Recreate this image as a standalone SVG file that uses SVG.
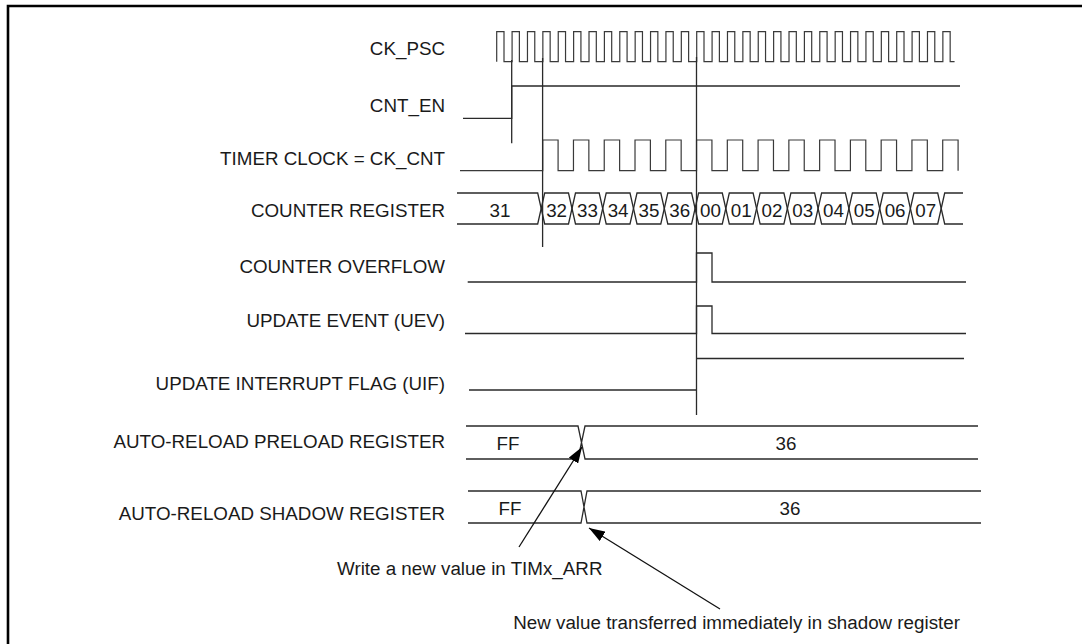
<svg xmlns="http://www.w3.org/2000/svg" width="1082" height="644" viewBox="0 0 1082 644">
<style>
.lbl{font-family:"Liberation Sans",Arial,sans-serif;font-size:18.8px;fill:#1a1a1a;text-anchor:end}
.val{font-family:"Liberation Sans",Arial,sans-serif;font-size:18.8px;fill:#1a1a1a;text-anchor:middle}
.ann{font-family:"Liberation Sans",Arial,sans-serif;font-size:18.8px;fill:#1a1a1a}
.w{fill:none;stroke:#2a2a2a;stroke-width:1.3}
.clk{fill:none;stroke:#3a3a3a;stroke-width:1.2}
.frame{fill:none;stroke:#000;stroke-width:2.6}
.ar{fill:none;stroke:#111;stroke-width:1.3}
</style>
<defs>
<marker id="ah" markerUnits="userSpaceOnUse" markerWidth="16" markerHeight="11" viewBox="0 0 16 11" refX="16" refY="5.5" orient="auto"><path d="M0 0L16 5.5L0 11z" fill="#000"/></marker>
</defs>
<rect width="1082" height="644" fill="#fff"/>
<path class="frame" d="M8 644V6H1082"/>

<g id="ck_psc">
<text class="lbl" x="445" y="55">CK_PSC</text>
<path class="clk" d="M496.7 61.7v-30h7.3v30h8.085v-30h7.3v30h8.085v-30h7.3v30h8.085v-30h7.3v30h8.085v-30h7.3v30h8.085v-30h7.3v30h8.085v-30h7.3v30h8.085v-30h7.3v30h8.085v-30h7.3v30h8.085v-30h7.3v30h8.085v-30h7.3v30h8.085v-30h7.3v30h8.085v-30h7.3v30h8.085v-30h7.3v30h8.085v-30h7.3v30h8.085v-30h7.3v30h8.085v-30h7.3v30h8.085v-30h7.3v30h8.085v-30h7.3v30h8.085v-30h7.3v30h8.085v-30h7.3v30h8.085v-30h7.3v30h8.085v-30h7.3v30h8.085v-30h7.3v30h8.085v-30h7.3v30h8.085v-30h7.3v30h8.085v-30h7.3v30h8.085v-30h7.3v30h8.085v-30h7.3v30h8.085v-30h7.3v30h4.4"/>
</g>

<g id="cnt_en">
<text class="lbl" x="445" y="111.7">CNT_EN</text>
<path class="w" d="M463 118.3H511.7V86H960"/>
</g>

<g id="ck_cnt">
<text class="lbl" x="445" y="165">TIMER CLOCK = CK_CNT</text>
<path class="clk" d="M460 170.7H542.7v-30.7h15.385v30.7h15.385v-30.7h15.385v30.7h15.385v-30.7h15.385v30.7h15.385v-30.7h15.385v30.7h15.385v-30.7h15.385v30.7h15.385v-30.7h15.385v30.7h15.385v-30.7h15.385v30.7h15.385v-30.7h15.385v30.7h15.385v-30.7h15.385v30.7h15.385v-30.7h15.385v30.7h15.385v-30.7h15.385v30.7h15.385v-30.7h15.385v30.7h15.385v-30.7h15.385v30.7h15.385v-30.7h15.385v30.7"/>
</g>

<g id="counter_register">
<text class="lbl" x="445" y="216.7">COUNTER REGISTER</text>
<path class="w" d="M457 193H537.7L544.7 224H568.5L575.5 193H599.2L606.2 224H630L637 193H660.8L667.8 224H691.6L698.6 193H722.3L729.3 224H753.1L760.1 193H783.9L790.9 224H814.6L821.6 193H845.4L852.4 224H876.2L883.2 193H906.9L913.9 224H937.7L944.7 193H963"/>
<path class="w" d="M457 224H537.7L544.7 193H568.5L575.5 224H599.2L606.2 193H630L637 224H660.8L667.8 193H691.6L698.6 224H722.3L729.3 193H753.1L760.1 224H783.9L790.9 193H814.6L821.6 224H845.4L852.4 193H876.2L883.2 224H906.9L913.9 193H937.7L944.7 224H963"/>
<text class="val" x="500" y="216.7">31</text>
<text class="val" x="556.6" y="216.7">32</text>
<text class="val" x="587.4" y="216.7">33</text>
<text class="val" x="618.1" y="216.7">34</text>
<text class="val" x="648.9" y="216.7">35</text>
<text class="val" x="679.7" y="216.7">36</text>
<text class="val" x="710.4" y="216.7">00</text>
<text class="val" x="741.2" y="216.7">01</text>
<text class="val" x="772" y="216.7">02</text>
<text class="val" x="802.7" y="216.7">03</text>
<text class="val" x="833.5" y="216.7">04</text>
<text class="val" x="864.3" y="216.7">05</text>
<text class="val" x="895.1" y="216.7">06</text>
<text class="val" x="925.8" y="216.7">07</text>
</g>

<g id="counter_overflow">
<text class="lbl" x="445" y="273.3">COUNTER OVERFLOW</text>
<path class="w" d="M467.7 282H696.5V253H712V282H966"/>
</g>

<g id="update_event">
<text class="lbl" x="445" y="327">UPDATE EVENT (UEV)</text>
<path class="w" d="M465 333.5H696.5V306H712V333.5H966"/>
</g>

<g id="uif">
<text class="lbl" x="445" y="390">UPDATE INTERRUPT FLAG (UIF)</text>
<path class="w" d="M469 390H696.5M696.5 358.5H964"/>
</g>

<g id="preload">
<text class="lbl" x="445" y="448.3">AUTO-RELOAD PRELOAD REGISTER</text>
<path class="w" d="M466 426H578L585 459H978M466 459H578L585 426H978"/>
<text class="val" x="508" y="450">FF</text>
<text class="val" x="786" y="450">36</text>
</g>

<g id="shadow">
<text class="lbl" x="445" y="520">AUTO-RELOAD SHADOW REGISTER</text>
<path class="w" d="M468 491H581L587 523H981M468 523H581L587 491H981"/>
<text class="val" x="510" y="515">FF</text>
<text class="val" x="790" y="515">36</text>
</g>

<g id="connectors">
<path class="w" d="M511.7 60V143.3M542.6 58V247M696.5 57V415"/>
<path class="ar" d="M519 547L582 447" marker-end="url(#ah)"/>
<path class="ar" d="M720 609L589 528" marker-end="url(#ah)"/>
</g>

<g id="annotations">
<text class="ann" x="337" y="575">Write a new value in TIMx_ARR</text>
<text class="ann" x="960" y="629" text-anchor="end">New value transferred immediately in shadow register</text>
</g>
</svg>
